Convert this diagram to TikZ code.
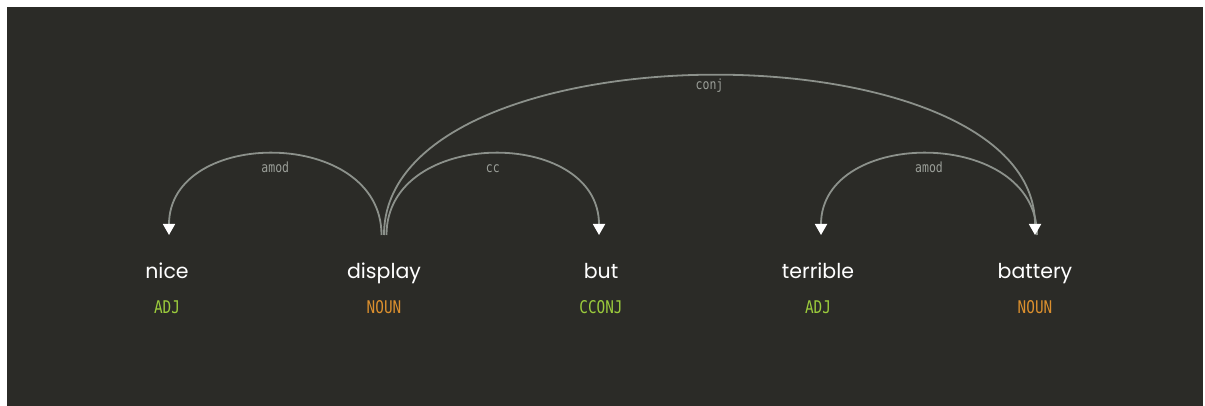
\documentclass[tikz,border=0pt]{standalone}
\usepackage{fontspec}
\setmainfont{Poppins}
\newfontfamily\tagfont[FakeStretch=0.82]{DejaVu Sans Mono}
\usepackage{tikz}
\usetikzlibrary{arrows.meta}
\definecolor{dbg}{HTML}{2B2B27}
\definecolor{dgray}{HTML}{8C918B}
\definecolor{dlabel}{HTML}{9A9E98}
\definecolor{dgreen}{HTML}{9BCB3C}
\definecolor{dorange}{HTML}{DB8F2E}

\begin{document}
\begin{tikzpicture}[x=1pt, y=-1pt,
  word/.style={anchor=base, text=white, font=\fontsize{20.5}{21}\selectfont},
  tag/.style={anchor=base, font=\tagfont\fontsize{17.5}{18}\selectfont},
  arc/.style={draw=dgray, line width=1.8pt, -{Triangle[width=12pt, length=11pt, color=white]}},
  arclabel/.style={anchor=base, pos=0.5, text=dlabel, font=\tagfont\fontsize{14}{14}\selectfont}]
 \fill[white] (0,0) rectangle (1205,406);
 \fill[dbg] (7,7) rectangle (1203,406);
 \foreach \w/\t/\c [count=\i] in {nice/ADJ/dgreen, display/NOUN/dorange, but/CCONJ/dgreen, terrible/ADJ/dgreen, battery/NOUN/dorange} {
   \node[word] (w\i) at ({167+217*(\i-1)},278) {\w};
   \node[tag, text=\c] (t\i) at ({167+217*(\i-1)},313) {\t};
   \coordinate (p\i) at ({167+217*(\i-1)},235);
 }
 \draw[arc] ([xshift=-2.5pt]p2) .. controls +(0,-108) and +(0,-108) .. ([xshift=2pt]p1) node[arclabel, yshift=-19pt] {amod};
 \draw[arc] ([xshift=2.5pt]p2) .. controls +(0,-108) and +(0,-108) .. ([xshift=-2pt]p3) node[arclabel, yshift=-19pt] {cc};
 \draw[arc] ([xshift=2pt]p5) .. controls +(0,-108) and +(0,-108) .. ([xshift=3pt]p4) node[arclabel, yshift=-19pt] {amod};
 \draw[arc] (p2) .. controls +(0,-212) and +(0,-212) .. (p5) node[arclabel, yshift=-14pt] {conj};
\end{tikzpicture}
\end{document}
